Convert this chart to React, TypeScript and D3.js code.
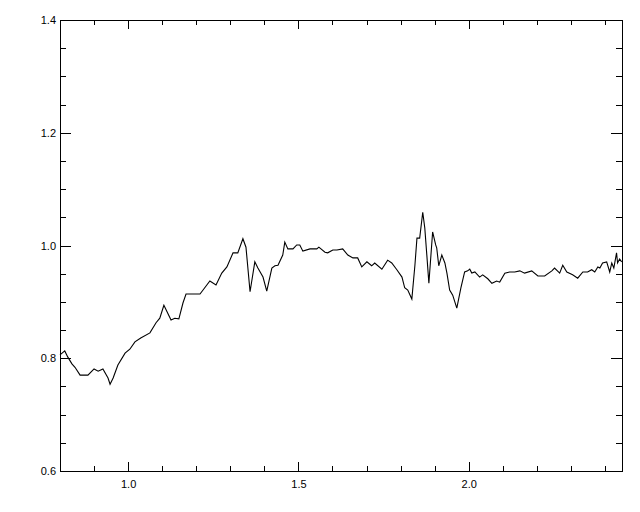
import React, { useRef, useEffect } from "react";
import * as d3 from "d3";

// spectrum: wavelength (x) and ratio (y)
const waveX = [
  0.8, 0.814, 0.823, 0.835, 0.844, 0.859, 0.882, 0.9, 0.912, 0.926, 0.941, 0.947, 0.956, 0.97, 0.991,
  1.005, 1.02, 1.037, 1.064, 1.082, 1.093, 1.105, 1.126, 1.137, 1.149, 1.161, 1.17, 1.199,
  1.211, 1.22, 1.24, 1.258, 1.275, 1.29, 1.308, 1.322, 1.337, 1.346, 1.358, 1.372, 1.381, 1.396,
  1.407, 1.422, 1.431, 1.44, 1.454, 1.46, 1.469, 1.484, 1.495, 1.504, 1.513, 1.534, 1.554, 1.56,
  1.578, 1.586, 1.601, 1.613, 1.63, 1.645, 1.66, 1.674, 1.686, 1.701, 1.715, 1.724, 1.745, 1.762,
  1.774, 1.789, 1.804, 1.812, 1.821, 1.833, 1.842, 1.848, 1.856, 1.865, 1.871, 1.877, 1.883, 1.894,
  1.903, 1.906, 1.912, 1.921, 1.93, 1.936, 1.944, 1.953, 1.965, 1.977, 1.988, 1.997,
  2.003, 2.009, 2.018, 2.032, 2.041, 2.056, 2.068, 2.082, 2.091, 2.106, 2.12, 2.135, 2.15, 2.164,
  2.185, 2.203, 2.223, 2.244, 2.252, 2.267, 2.276, 2.288, 2.305, 2.32, 2.335, 2.349, 2.361, 2.37,
  2.379, 2.385, 2.393, 2.405, 2.414, 2.42, 2.426, 2.434, 2.437, 2.443, 2.449,
];
const ratioY = [
  0.806, 0.813, 0.802, 0.79, 0.784, 0.77, 0.77, 0.781, 0.777, 0.781, 0.765, 0.754, 0.765, 0.788, 0.809,
  0.816, 0.829, 0.836, 0.845, 0.863, 0.871, 0.894, 0.868, 0.871, 0.87, 0.898, 0.914, 0.914,
  0.914, 0.921, 0.937, 0.93, 0.951, 0.962, 0.987, 0.987, 1.012, 0.997, 0.918, 0.971, 0.96, 0.944,
  0.919, 0.96, 0.964, 0.965, 0.983, 1.006, 0.994, 0.994, 1.001, 1.001, 0.99, 0.994, 0.994, 0.997,
  0.988, 0.987, 0.992, 0.992, 0.994, 0.983, 0.978, 0.978, 0.962, 0.971, 0.964, 0.969, 0.958, 0.974,
  0.969, 0.957, 0.944, 0.925, 0.921, 0.905, 0.965, 1.013, 1.013, 1.059, 1.031, 0.983, 0.933, 1.024,
  1.001, 0.996, 0.964, 0.983, 0.969, 0.951, 0.921, 0.912, 0.889, 0.925, 0.953, 0.955,
  0.958, 0.951, 0.953, 0.944, 0.948, 0.941, 0.933, 0.937, 0.935, 0.951, 0.953, 0.953, 0.955, 0.951,
  0.955, 0.946, 0.946, 0.955, 0.96, 0.951, 0.965, 0.953, 0.948, 0.942, 0.953, 0.953, 0.957, 0.953,
  0.962, 0.96, 0.969, 0.971, 0.953, 0.969, 0.96, 0.987, 0.969, 0.976, 0.971,
];

const xMajor = [1.0, 1.5, 2.0];
const xMinor = [0.9, 1.1, 1.2, 1.3, 1.4, 1.6, 1.7, 1.8, 1.9, 2.1, 2.2, 2.3, 2.4];
const yMajor = [0.6, 0.8, 1.0, 1.2, 1.4];
const yMinor = [0.65, 0.7, 0.75, 0.85, 0.9, 0.95, 1.05, 1.1, 1.15, 1.25, 1.3, 1.35];

function App() {
  const svgRef = useRef(null);
  const width = 640;
  const height = 512;

  useEffect(() => {
    const svg = d3.select(svgRef.current);
    svg.selectAll("*").remove();

    const left = 60, right = 622, top = 20, bottom = 471;
    const x = d3.scaleLinear().domain([0.8, 2.45]).range([left, right]);
    const y = d3.scaleLinear().domain([0.6, 1.4]).range([bottom, top]);

    const font = "'Liberation Sans', Arial, sans-serif";

    const style = (g) => {
      g.select(".domain").remove();
      g.selectAll("line").attr("stroke", "#000").attr("shape-rendering", "crispEdges");
      g.selectAll("text").attr("fill", "#000").attr("font-family", font).attr("font-size", 11);
    };

    // bottom
    svg.append("g").attr("transform", `translate(0,${bottom})`)
      .call(d3.axisBottom(x).tickValues(xMajor).tickSize(-9).tickPadding(9).tickFormat(d3.format(".1f")))
      .call(style);
    svg.append("g").attr("transform", `translate(0,${bottom})`)
      .call(d3.axisBottom(x).tickValues(xMinor).tickSize(-5).tickFormat(() => ""))
      .call(style);
    // top
    svg.append("g").attr("transform", `translate(0,${top})`)
      .call(d3.axisTop(x).tickValues(xMajor).tickSize(-9).tickFormat(() => ""))
      .call(style);
    svg.append("g").attr("transform", `translate(0,${top})`)
      .call(d3.axisTop(x).tickValues(xMinor).tickSize(-5).tickFormat(() => ""))
      .call(style);
    // left
    svg.append("g").attr("transform", `translate(${left},0)`)
      .call(d3.axisLeft(y).tickValues(yMajor).tickSize(-11).tickPadding(4).tickFormat(d3.format(".1f")))
      .call(style);
    svg.append("g").attr("transform", `translate(${left},0)`)
      .call(d3.axisLeft(y).tickValues(yMinor).tickSize(-6).tickFormat(() => ""))
      .call(style);
    // right
    svg.append("g").attr("transform", `translate(${right},0)`)
      .call(d3.axisRight(y).tickValues(yMajor).tickSize(-11).tickFormat(() => ""))
      .call(style);
    svg.append("g").attr("transform", `translate(${right},0)`)
      .call(d3.axisRight(y).tickValues(yMinor).tickSize(-6).tickFormat(() => ""))
      .call(style);

    svg.append("rect")
      .attr("x", left + 0.5).attr("y", top + 0.5)
      .attr("width", right - left).attr("height", bottom - top)
      .attr("fill", "none").attr("stroke", "#000")
      .attr("shape-rendering", "crispEdges");

    const line = d3.line()
      .x((d, i) => x(waveX[i]))
      .y((d) => y(d));

    svg.append("path")
      .datum(ratioY)
      .attr("fill", "none")
      .attr("stroke", "#000")
      .attr("stroke-width", 1.1)
      .attr("d", line);
  }, []);

  return (
    <div style={{ position: "absolute", left: 0, top: 0 }}>
      <svg ref={svgRef} width={width} height={height} style={{ display: "block", background: "#fff" }}></svg>
    </div>
  );
}

export default App;
